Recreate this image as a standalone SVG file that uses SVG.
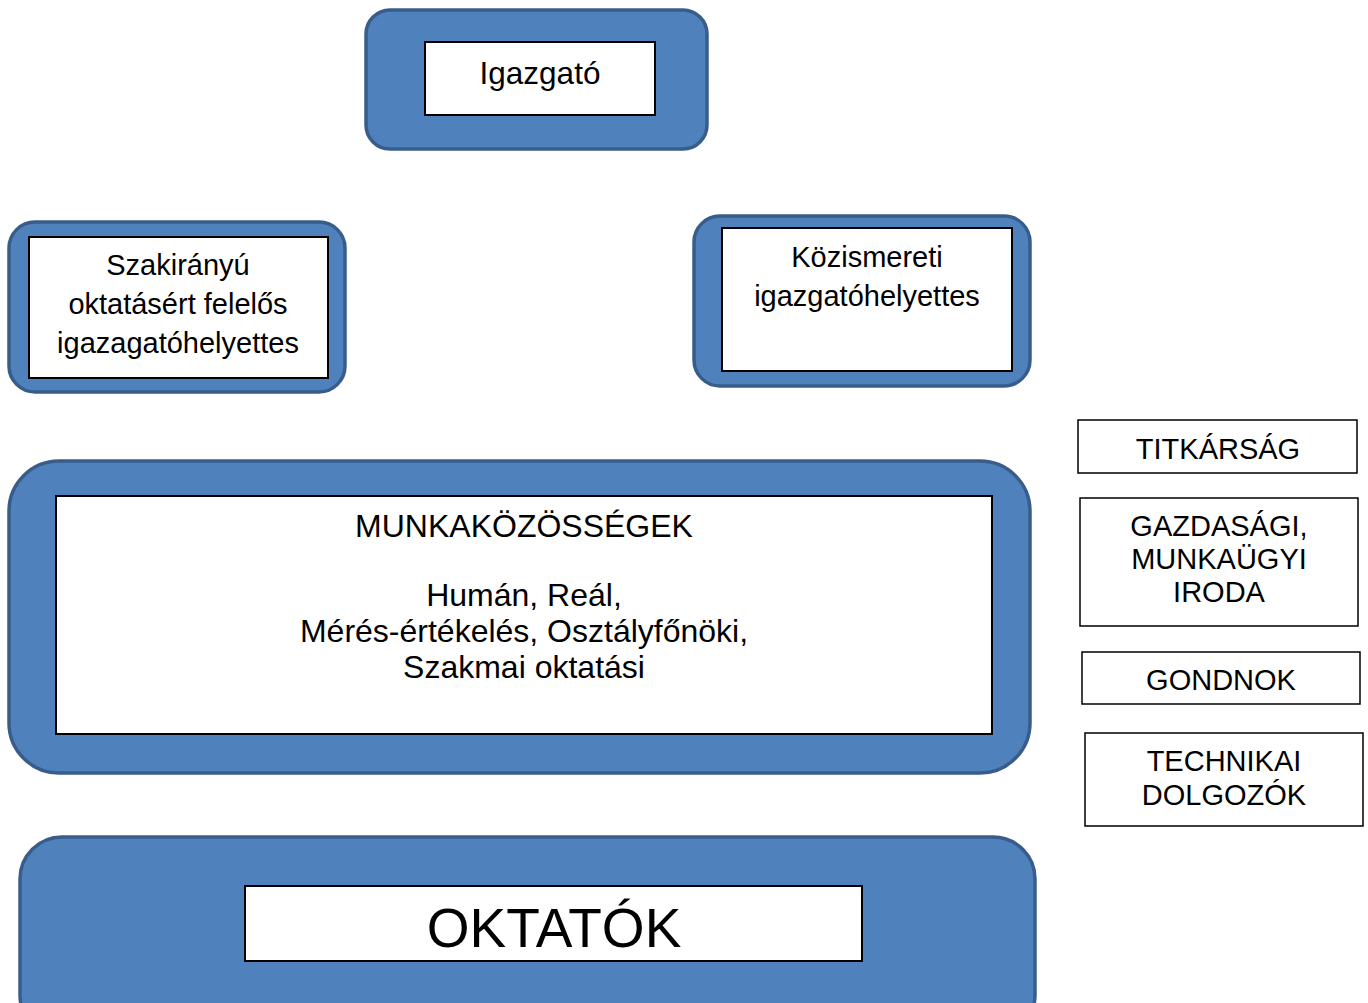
<svg xmlns="http://www.w3.org/2000/svg" width="1368" height="1003" viewBox="0 0 1368 1003">
<style>
.outer{fill:#4F81BD;stroke:#385D8A;stroke-width:3.5}
.inner{fill:#fff;stroke:#000;stroke-width:2}
.box{fill:#fff;stroke:#000;stroke-width:1.5}
text{font-family:"Liberation Sans",Arial,sans-serif;fill:#000;text-anchor:middle}
.t29{font-size:29px}
.t31{font-size:31.5px}
.t32{font-size:32px}
</style>
<rect width="1368" height="1003" fill="#fff"/>
<g id="igazgato">
<rect class="outer" x="366" y="10" width="341" height="139" rx="24"/>
<rect class="inner" x="425" y="42" width="230" height="73"/>
<text class="t31" x="540" y="84">Igazgató</text>
</g>
<g id="szakiranyu">
<rect class="outer" x="9" y="222" width="336" height="170" rx="26"/>
<rect class="inner" x="29" y="237" width="299" height="141"/>
<text class="t29" x="178" y="275">Szakirányú</text>
<text class="t29" x="178" y="314">oktatásért felelős</text>
<text class="t29" x="178" y="353">igazagatóhelyettes</text>
</g>
<g id="kozismereti">
<rect class="outer" x="694" y="216" width="336" height="170" rx="26"/>
<rect class="inner" x="722" y="228" width="290" height="143"/>
<text class="t29" x="867" y="267">Közismereti</text>
<text class="t29" x="867" y="306">igazgatóhelyettes</text>
</g>
<g id="munkakozossegek">
<rect class="outer" x="9" y="461" width="1021" height="312" rx="50"/>
<rect class="inner" x="56" y="496" width="936" height="238"/>
<text class="t32" x="524" y="537">MUNKAKÖZÖSSÉGEK</text>
<text class="t32" x="524" y="606">Humán, Reál,</text>
<text class="t32" x="524" y="642">Mérés-értékelés, Osztályfőnöki,</text>
<text class="t32" x="524" y="678">Szakmai oktatási</text>
</g>
<g id="oktatok">
<rect class="outer" x="20" y="837" width="1015" height="200" rx="42"/>
<rect class="inner" x="245" y="886" width="617" height="75"/>
<text x="554" y="947" style="font-size:55px">OKTATÓK</text>
</g>
<g id="titkarsag">
<rect class="box" x="1078" y="420" width="279" height="53"/>
<text class="t29" x="1218" y="459">TITKÁRSÁG</text>
</g>
<g id="gazdasagi">
<rect class="box" x="1080" y="498" width="278" height="128"/>
<text class="t29" x="1219" y="536">GAZDASÁGI,</text>
<text class="t29" x="1219" y="569">MUNKAÜGYI</text>
<text class="t29" x="1219" y="602">IRODA</text>
</g>
<g id="gondnok">
<rect class="box" x="1082" y="652" width="278" height="52"/>
<text class="t29" x="1221" y="690">GONDNOK</text>
</g>
<g id="technikai">
<rect class="box" x="1085" y="733" width="278" height="93"/>
<text class="t29" x="1224" y="771">TECHNIKAI</text>
<text class="t29" x="1224" y="805">DOLGOZÓK</text>
</g>
<g id="connectors"></g>
</svg>
